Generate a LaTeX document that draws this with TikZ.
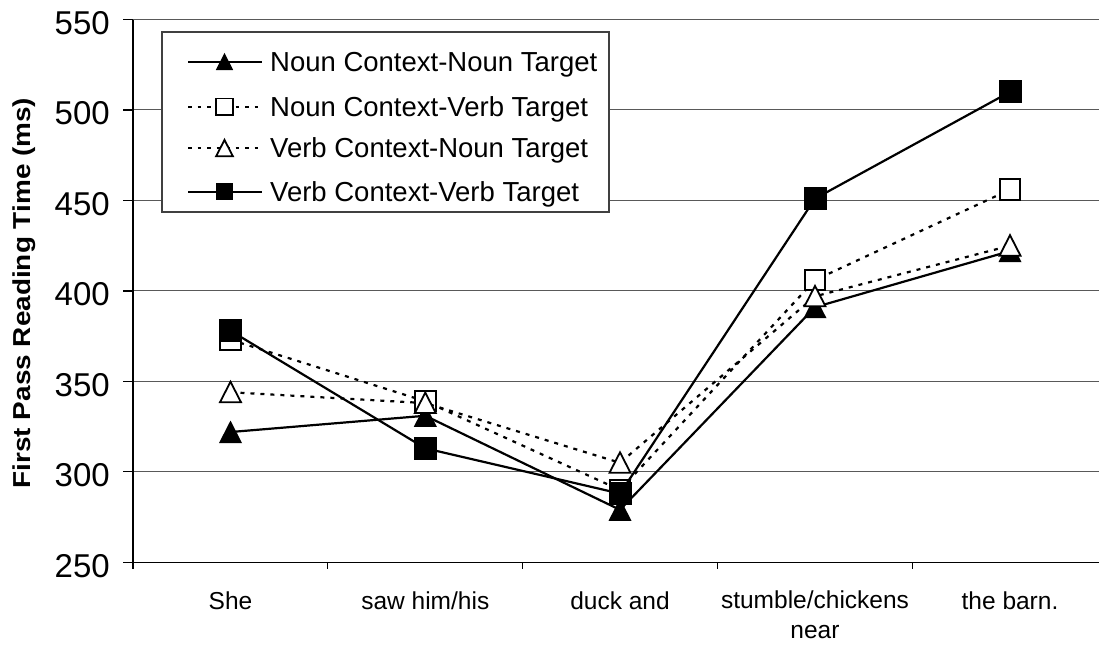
\documentclass[tikz,border=0pt]{standalone}
\usepackage{fontspec}
\setmainfont{Liberation Sans}
\newcommand\dataY[1]{562.3-(#1-250)*1.8093}
\begin{document}
\begin{tikzpicture}[x=1pt,y=-1pt,
  grid/.style={draw=black!65,line width=1pt},
  axisline/.style={draw=black,line width=1.3pt},
  solidser/.style={draw=black,line width=2.2pt},
  dashser/.style={draw=black,line width=2.2pt,dash pattern=on 4pt off 6pt},
  legsolid/.style={draw=black,line width=2pt},
  legdash/.style={draw=black,line width=2pt,dash pattern=on 3.5pt off 6pt},
  ticklab/.style={anchor=base east,inner sep=0pt,font=\fontsize{33}{40}\selectfont},
  catlab/.style={anchor=base,inner sep=0pt,font=\fontsize{24.5}{30}\selectfont},
  leglab/.style={anchor=base west,inner sep=0pt,font=\fontsize{27.5}{33}\selectfont},
  ftri/.pic={\fill[black] (-11.5,11)--(11.5,11)--(0,-11.5)--cycle;},
  otri/.pic={\draw[fill=white,line width=1.8pt] (-10.5,10)--(10.5,10)--(0,-10.5)--cycle;},
  fsq/.pic={\fill[black] (-11.5,-11.5) rectangle (11.5,11.5);},
  osq/.pic={\draw[fill=white,line width=1.8pt] (-10.3,-10.3) rectangle (10.3,10.3);}
]
\useasboundingbox[fill=white] (0,0) rectangle (1099,648);

% grid lines and value axis
\foreach \v in {300,350,400,450,500,550}{
  \draw[grid] (133,{\dataY{\v}}) -- (1099,{\dataY{\v}});
}
\foreach \v in {250,300,350,400,450,500,550}{
  \draw[axisline] (123,{\dataY{\v}}) -- (133,{\dataY{\v}});
  \node[ticklab] (t\v) at (110,{\dataY{\v}+15}) {\v};
}
\draw[axisline] (133,19.5) -- (133,562.3);
\draw[axisline] (133,562.3) -- (1099,562.3);
\foreach \k in {0,...,5}{
  \draw[axisline] ({133+\k*194.8},562.3) -- ({133+\k*194.8},569);
}

% category labels
\node[catlab] (c1) at (230.5,609.3) {She};
\node[catlab] (c2) at (425.3,609.3) {saw him/his};
\node[catlab] (c3) at (620,609.3) {duck and};
\node[catlab] (c4) at (815,608.5) {stumble/chickens};
\node[catlab] (c4b) at (815,638.5) {near};
\node[catlab] (c5) at (1010,609.3) {the barn.};

% axis title
\node[rotate=90,inner sep=0pt,font=\bfseries\fontsize{24.5}{30}\selectfont] (ytitle) at (24,293)
  {\scalebox{1.14}[1]{First Pass Reading Time (ms)}};

% data coordinates
\coordinate (nn1) at (230.5,{\dataY{322}});
\coordinate (nn2) at (425.3,{\dataY{331}});
\coordinate (nn3) at (620,{\dataY{279}});
\coordinate (nn4) at (815,{\dataY{391}});
\coordinate (nn5) at (1010,{\dataY{422}});
\coordinate (nv1) at (230.5,{\dataY{373}});
\coordinate (nv2) at (425.3,{\dataY{339}});
\coordinate (nv3) at (620,{\dataY{290}});
\coordinate (nv4) at (815,{\dataY{406}});
\coordinate (nv5) at (1010,{\dataY{456}});
\coordinate (vn1) at (230.5,{\dataY{344}});
\coordinate (vn2) at (425.3,{\dataY{338}});
\coordinate (vn3) at (620,{\dataY{305}});
\coordinate (vn4) at (815,{\dataY{397}});
\coordinate (vn5) at (1010,{\dataY{425}});
\coordinate (vv1) at (230.5,{\dataY{378}});
\coordinate (vv2) at (425.3,{\dataY{313}});
\coordinate (vv3) at (620,{\dataY{288}});
\coordinate (vv4) at (815,{\dataY{451}});
\coordinate (vv5) at (1010,{\dataY{510}});

% series: Noun Context-Noun Target
\draw[solidser] (nn1) -- (nn2) -- (nn3) -- (nn4) -- (nn5);
\foreach \i in {1,...,5}{ \pic at (nn\i) {ftri}; }
% series: Noun Context-Verb Target
\draw[dashser] (nv1) -- (nv2) -- (nv3) -- (nv4) -- (nv5);
\foreach \i in {1,...,5}{ \pic at (nv\i) {osq}; }
% series: Verb Context-Noun Target
\draw[dashser] (vn1) -- (vn2) -- (vn3) -- (vn4) -- (vn5);
\foreach \i in {1,...,5}{ \pic at (vn\i) {otri}; }
% series: Verb Context-Verb Target
\draw[solidser] (vv1) -- (vv2) -- (vv3) -- (vv4) -- (vv5);
\foreach \i in {1,...,5}{ \pic at (vv\i) {fsq}; }

% legend
\draw[draw=black!75,fill=white,line width=1.3pt] (162,32) rectangle (609,212);
\coordinate (la1) at (188,61.7);  \coordinate (lb1) at (262,61.7);  \coordinate (lm1) at (224.5,61.7);
\coordinate (la2) at (188,106.7); \coordinate (lb2) at (262,106.7); \coordinate (lm2) at (224.5,106.7);
\coordinate (la3) at (188,148.3); \coordinate (lb3) at (262,148.3); \coordinate (lm3) at (224.5,148.3);
\coordinate (la4) at (188,191.7); \coordinate (lb4) at (262,191.7); \coordinate (lm4) at (224.5,191.7);
\draw[legsolid] (la1) -- (lb1); \pic[scale=0.76] at (lm1) {ftri};
\draw[legdash] (la2) -- (lb2);  \pic[scale=0.8] at (lm2) {osq};
\draw[legdash] (la3) -- (lb3);  \pic[scale=0.8] at (lm3) {otri};
\draw[legsolid] (la4) -- (lb4); \pic[scale=0.76] at (lm4) {fsq};
\node[leglab] (l1) at (270,71.2) {Noun Context-Noun Target};
\node[leglab] (l2) at (270,116.2) {Noun Context-Verb Target};
\node[leglab] (l3) at (270,157.8) {Verb Context-Noun Target};
\node[leglab] (l4) at (270,201.2) {Verb Context-Verb Target};
\end{tikzpicture}
\end{document}
